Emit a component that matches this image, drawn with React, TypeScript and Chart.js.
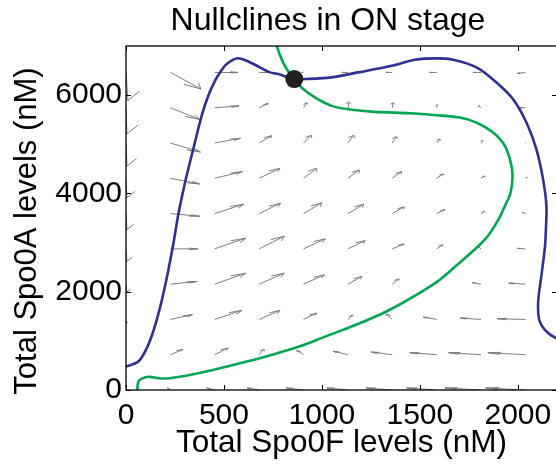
import React, { useEffect, useRef } from 'react';
import { Chart, registerables } from 'chart.js';

Chart.register(...registerables);

const TITLE = 'Nullclines in ON stage';
const X_LABEL = 'Total Spo0F levels (nM)';
const Y_LABEL = 'Total Spo0A levels (nM)';

const xMin = 0;
const xMax = 2200;
const yMin = 0;
const yMax = 7000;
const xTickValues = [0, 500, 1000, 1500, 2000];
const yTickValues = [0, 2000, 4000, 6000];

// blue nullcline
const blueX = [0, 63, 106, 139, 173, 208, 241, 267, 301, 343, 386, 420, 454, 485, 514, 568, 616, 684, 735, 777, 859, 913, 1049, 1185, 1356, 1474, 1585, 1670, 1789, 1891, 1976, 2044, 2095, 2129, 2146, 2143, 2138, 2121, 2104, 2109, 2138, 2194, 2260];
const blueY = [476, 578, 851, 1190, 1667, 2280, 2959, 3571, 4218, 4898, 5578, 5986, 6292, 6490, 6633, 6749, 6700, 6565, 6463, 6429, 6327, 6327, 6361, 6463, 6598, 6720, 6749, 6720, 6565, 6259, 5918, 5443, 4898, 4286, 3741, 3231, 2892, 2347, 1802, 1429, 1224, 1055, 980];

// green nullcline
const greenX = [760, 769, 794, 820, 859, 896, 964, 1049, 1134, 1270, 1449, 1585, 1704, 1789, 1874, 1934, 1964, 1973, 1963, 1934, 1900, 1850, 1791, 1700, 1602, 1480, 1347, 1230, 1107, 1000, 888, 760, 616, 480, 343, 224, 165, 122, 95, 68, 60, 58];
const greenY = [7200, 7006, 6735, 6531, 6327, 6157, 5953, 5782, 5714, 5660, 5633, 5592, 5544, 5442, 5238, 4966, 4626, 4354, 4014, 3741, 3460, 3150, 2900, 2580, 2245, 1930, 1633, 1420, 1224, 1060, 890, 735, 578, 442, 320, 240, 240, 268, 255, 200, 120, 0];

// steady state
const fixedPointX = [859];
const fixedPointY = [6327];

// vector field grid
const fieldX = [0, 227, 453, 680, 906, 1133, 1359, 1586, 1812, 2039];
const fieldY = [0, 718, 1436, 2154, 2872, 3590, 4308, 5026, 5744, 6462];
const fieldU = [
  [0, -15, -41, -61, -87, -107, -133, -153, -184, -204],
  [0, 63, 68, 24, -34, -75, -107, -138, -165, -192],
  [3, 112, 138, 106, 68, 24, -29, -68, -106, -144],
  [5, 136, 158, 128, 107, 71, 34, 5, -46, -85],
  [5, 141, 158, 128, 111, 88, 61, 31, -13, -42],
  [5, 149, 148, 109, 93, 80, 61, 42, 20, -15],
  [5, 149, 141, 106, 68, 58, 47, 34, 20, 9],
  [5, 153, 131, 63, 39, 29, 22, 17, 9, 3],
  [5, 149, 124, 46, 17, 5, 4, 3, -15, -26],
  [10, 156, 119, 41, -10, -31, -31, -36, -41, -41],
];
const fieldV = [
  [0, 41, 41, 41, 41, 41, 41, 41, 41, 41],
  [0, 108, 137, 108, 88, 71, 55, 41, 41, 41],
  [-76, 96, 184, 184, 129, 88, 108, 47, 27, 14],
  [-163, 55, 224, 224, 190, 157, 108, 41, 33, 20],
  [-253, 0, 218, 257, 204, 169, 102, 82, 41, 10],
  [-327, -55, 190, 210, 218, 190, 137, 82, 47, 20],
  [-396, -116, 137, 204, 204, 169, 137, 88, 47, 20],
  [-469, -184, 96, 149, 157, 157, 129, 82, 55, 10],
  [-531, -239, 35, 88, 102, 116, 102, 61, 41, 0],
  [-571, -337, 0, 0, 0, 0, 0, 0, 0, -20],
];

const FONT = '"Liberation Sans", Arial, Helvetica, sans-serif';

const quiverPlugin = {
  id: 'quiver',
  beforeDatasetsDraw(chart: any) {
    const { ctx, chartArea: a, scales } = chart;
    const xs = scales.x;
    const ys = scales.y;
    const alpha = 0.33;
    const beta = 0.33;
    ctx.save();
    ctx.beginPath();
    ctx.rect(a.left, a.top, a.right - a.left, a.bottom - a.top);
    ctx.clip();
    ctx.strokeStyle = '#7d7d7d';
    ctx.lineWidth = 1;
    for (let r = 0; r < fieldY.length; r++) {
      for (let c = 0; c < fieldX.length; c++) {
        const x = fieldX[c];
        const y = fieldY[r];
        const u = fieldU[r][c];
        const v = fieldV[r][c];
        if (u === 0 && v === 0) continue;
        const p = (dx: number, dy: number) => [xs.getPixelForValue(dx), ys.getPixelForValue(dy)];
        const [x0, y0] = p(x, y);
        const [x1, y1] = p(x + u, y + v);
        const [h1x, h1y] = p(x + u - alpha * (u + beta * v), y + v - alpha * (v - beta * u));
        const [h2x, h2y] = p(x + u - alpha * (u - beta * v), y + v - alpha * (v + beta * u));
        ctx.beginPath();
        ctx.moveTo(x0, y0);
        ctx.lineTo(x1, y1);
        ctx.moveTo(h1x, h1y);
        ctx.lineTo(x1, y1);
        ctx.lineTo(h2x, h2y);
        ctx.stroke();
      }
    }
    ctx.restore();
  },
};

const framePlugin = {
  id: 'frame',
  afterDraw(chart: any) {
    const { ctx, chartArea: a, scales } = chart;
    const TL = 5;
    ctx.save();
    ctx.strokeStyle = '#000';
    ctx.lineWidth = 1;
    ctx.beginPath();
    for (const v of xTickValues) {
      const px = Math.round(scales.x.getPixelForValue(v)) + 0.5;
      ctx.moveTo(px, a.bottom);
      ctx.lineTo(px, a.bottom - TL);
      ctx.moveTo(px, a.top);
      ctx.lineTo(px, a.top + TL);
    }
    for (const v of yTickValues) {
      const py = Math.round(scales.y.getPixelForValue(v)) + 0.5;
      ctx.moveTo(a.left, py);
      ctx.lineTo(a.left + TL, py);
      ctx.moveTo(a.right, py);
      ctx.lineTo(a.right - TL, py);
    }
    ctx.stroke();
    ctx.lineWidth = 1.3;
    ctx.strokeRect(a.left, a.top, a.right - a.left, a.bottom - a.top);

    ctx.fillStyle = '#000';
    ctx.textBaseline = 'alphabetic';
    ctx.textAlign = 'center';
    ctx.font = `32px ${FONT}`;
    ctx.fillText(TITLE, 328, 30);
    ctx.font = `31.5px ${FONT}`;
    ctx.fillText(X_LABEL, (a.left + a.right) / 2, 452);
    ctx.font = `31px ${FONT}`;
    ctx.save();
    ctx.translate(36, 231);
    ctx.rotate(-Math.PI / 2);
    ctx.fillText(Y_LABEL, 0, 0);
    ctx.restore();
    ctx.restore();
  },
};

export default function App() {
  const ref = useRef<HTMLCanvasElement | null>(null);
  useEffect(() => {
    if (!ref.current) return;
    const blue = blueX.map((x, i) => ({ x, y: blueY[i] }));
    const green = greenX.map((x, i) => ({ x, y: greenY[i] }));
    const dot = fixedPointX.map((x, i) => ({ x, y: fixedPointY[i] }));
    const tickFont = { family: FONT, size: 30 };
    const chart = new Chart(ref.current, {
      type: 'scatter',
      data: {
        datasets: [
          {
            label: 'Steady state',
            data: dot,
            pointRadius: 9,
            pointHoverRadius: 9,
            backgroundColor: '#231f20',
            borderColor: '#231f20',
            borderWidth: 0,
            showLine: false,
          },
          {
            label: 'Green nullcline',
            data: green,
            showLine: true,
            borderColor: '#00a651',
            borderWidth: 2.6,
            pointRadius: 0,
            tension: 0.3,
          },
          {
            label: 'Blue nullcline',
            data: blue,
            showLine: true,
            borderColor: '#2e3192',
            borderWidth: 2.6,
            pointRadius: 0,
            tension: 0.3,
          },
        ],
      },
      options: {
        responsive: false,
        animation: false,
        events: [],
        layout: { autoPadding: false, padding: { left: 0, right: 1, top: 46, bottom: 0 } },
        plugins: {
          legend: { display: false },
          title: { display: false },
          tooltip: { enabled: false },
        },
        scales: {
          x: {
            type: 'linear',
            min: xMin,
            max: xMax,
            grid: { display: false, drawTicks: false },
            border: { display: false },
            afterBuildTicks: (s: any) => {
              s.ticks = xTickValues.map((value) => ({ value }));
            },
            ticks: {
              padding: 8,
              font: tickFont,
              color: '#000',
              maxRotation: 0,
              autoSkip: false,
              callback: (v: any) => String(v),
            },
            afterFit: (s: any) => {
              s.height = 75;
              s.paddingLeft = 0;
              s.paddingRight = 0;
            },
          },
          y: {
            type: 'linear',
            min: yMin,
            max: yMax,
            grid: { display: false, drawTicks: false },
            border: { display: false },
            afterBuildTicks: (s: any) => {
              s.ticks = yTickValues.map((value) => ({ value }));
            },
            ticks: {
              padding: 4,
              font: tickFont,
              color: '#000',
              autoSkip: false,
              callback: (v: any) => String(v),
            },
            afterFit: (s: any) => {
              s.width = 126;
              s.paddingTop = 0;
              s.paddingBottom = 0;
            },
          },
        },
      } as any,
      plugins: [quiverPlugin, framePlugin],
    });
    return () => chart.destroy();
  }, []);
  return (
    <div style={{ position: 'fixed', left: 0, top: 0, width: 556, height: 465, overflow: 'hidden', background: '#fff' }}>
      <canvas ref={ref} width={558} height={465} style={{ width: 558, height: 465, display: 'block' }} />
    </div>
  );
}
